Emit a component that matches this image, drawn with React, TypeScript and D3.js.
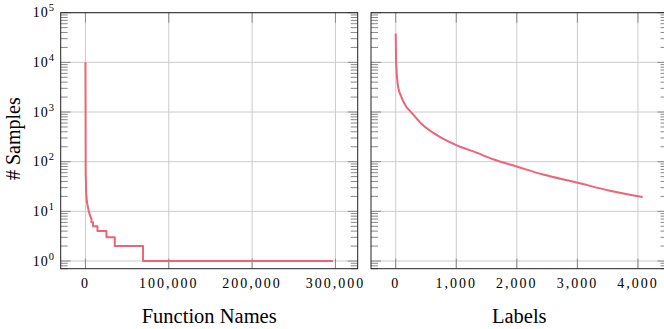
import { useEffect, useRef } from "react";
import * as d3 from "d3";

// Function Names panel: rank vs. number of samples (step-like tail)
const funcRank = [0, 300, 900, 1900, 4000, 5800, 7200, 7200, 9100, 9100, 14400, 14400, 25200, 25200, 35200, 35200, 69100, 69100, 297000];
const funcCount = [10000, 60, 23, 15, 10, 8, 7, 6, 6, 5, 5, 4, 4, 3, 3, 2, 2, 1, 1];

// Labels panel
const labelRank = [0, 5, 11, 40, 95, 177, 231, 424, 727, 1000, 1333, 1608, 1995, 2435, 2987, 3537, 4078];
const labelCount = [38000, 12000, 8000, 3200, 2000, 1260, 1070, 580, 316, 216, 152, 112, 80, 55, 38, 26, 19.5];

const funcTicks = [0, 100000, 200000, 300000];
const labelTicks = [0, 1000, 2000, 3000, 4000];
const yDecades = [0, 1, 2, 3, 4, 5];

const LINE = "#ee6377";
const FONT = "'Liberation Serif', 'Times New Roman', serif";

export default function App() {
  const ref = useRef<SVGSVGElement>(null);

  useEffect(() => {
    const svg = d3.select(ref.current);
    svg.selectAll("*").remove();

    const top = 12.7;
    const bottom = 268.7;
    const y = d3.scaleLog().domain([0.7, 1e5]).range([bottom, top]);

    const minorY: number[] = [0.7, 0.8, 0.9];
    yDecades.slice(0, -1).forEach((e) => {
      for (let k = 2; k <= 9; k++) minorY.push(k * Math.pow(10, e));
    });

    const panels = [
      {
        left: 60.7,
        right: 357.7,
        domain: [-29700, 326700],
        ticks: funcTicks,
        xs: funcRank,
        ys: funcCount,
        curve: d3.curveLinear,
        label: "Function Names",
        yLabels: true,
      },
      {
        left: 371,
        right: 667.5,
        domain: [-408, 4488],
        ticks: labelTicks,
        xs: labelRank,
        ys: labelCount,
        curve: d3.curveMonotoneX,
        label: "Labels",
        yLabels: false,
      },
    ];

    panels.forEach((p) => {
      const x = d3.scaleLinear().domain(p.domain).range([p.left, p.right]);
      const g = svg.append("g");

      // grid
      g.selectAll(".gx")
        .data(p.ticks)
        .enter()
        .append("line")
        .attr("x1", (d) => x(d))
        .attr("x2", (d) => x(d))
        .attr("y1", top)
        .attr("y2", bottom)
        .attr("stroke", "#cbcbcb");
      g.selectAll(".gy")
        .data(yDecades.map((e) => Math.pow(10, e)))
        .enter()
        .append("line")
        .attr("x1", p.left)
        .attr("x2", p.right)
        .attr("y1", (d) => y(d))
        .attr("y2", (d) => y(d))
        .attr("stroke", "#cbcbcb");

      // ticks: x major on top and bottom, y major/minor on both sides
      p.ticks.forEach((t) => {
        [
          [top, top + 10],
          [bottom, bottom - 10],
        ].forEach(([a, b]) => {
          g.append("line")
            .attr("x1", x(t))
            .attr("x2", x(t))
            .attr("y1", a)
            .attr("y2", b)
            .attr("stroke", "#888");
        });
      });
      const yt = [
        ...yDecades.map((e) => ({ v: Math.pow(10, e), len: 10 })),
        ...minorY.map((v) => ({ v, len: 7 })),
      ];
      yt.forEach((t) => {
        g.append("line")
          .attr("x1", p.left)
          .attr("x2", p.left + t.len)
          .attr("y1", y(t.v))
          .attr("y2", y(t.v))
          .attr("stroke", "#888");
        g.append("line")
          .attr("x1", p.right)
          .attr("x2", p.right - t.len)
          .attr("y1", y(t.v))
          .attr("y2", y(t.v))
          .attr("stroke", "#888");
      });

      // data line
      const pts = p.xs.map((v, i) => [v, p.ys[i]] as [number, number]);
      g.append("path")
        .datum(pts)
        .attr("fill", "none")
        .attr("stroke", LINE)
        .attr("stroke-width", 2)
        .attr("stroke-linejoin", "round")
        .attr(
          "d",
          d3
            .line<[number, number]>()
            .x((d) => x(d[0]))
            .y((d) => y(d[1]))
            .curve(p.curve)
        );

      // frame
      g.append("rect")
        .attr("x", p.left)
        .attr("y", top)
        .attr("width", p.right - p.left)
        .attr("height", bottom - top)
        .attr("fill", "none")
        .attr("stroke", "#222");

      // x tick labels
      g.selectAll(".xl")
        .data(p.ticks)
        .enter()
        .append("text")
        .attr("x", (d) => x(d))
        .attr("y", 288)
        .attr("text-anchor", "middle")
        .style("font-family", FONT)
        .style("font-size", "14px")
        .style("letter-spacing", "2px")
        .text((d) => d3.format(",")(d));

      g.append("text")
        .attr("x", (p.left + p.right) / 2)
        .attr("y", 322.5)
        .attr("text-anchor", "middle")
        .style("font-family", FONT)
        .style("font-size", "20.5px")
        .text(p.label);

      if (p.yLabels) {
        yDecades.forEach((e) => {
          const t = g
            .append("text")
            .attr("x", 54)
            .attr("y", y(Math.pow(10, e)) + 4.5)
            .attr("text-anchor", "end")
            .style("font-family", FONT)
            .style("font-size", "14px");
          t.append("tspan").style("letter-spacing", "1px").text("10");
          t.append("tspan")
            .attr("dy", -6)
            .style("font-size", "10.5px")
            .text(String(e));
        });
      }
    });

    svg
      .append("text")
      .attr("transform", `translate(20,${(top + bottom) / 2 - 2}) rotate(-90)`)
      .attr("text-anchor", "middle")
      .style("font-family", FONT)
      .style("font-size", "20px")
      .text("# Samples");
  }, []);

  return (
    <svg
      ref={ref}
      width={664}
      height={329}
      style={{ position: "absolute", left: 0, top: 0, background: "#fff" }}
    />
  );
}
